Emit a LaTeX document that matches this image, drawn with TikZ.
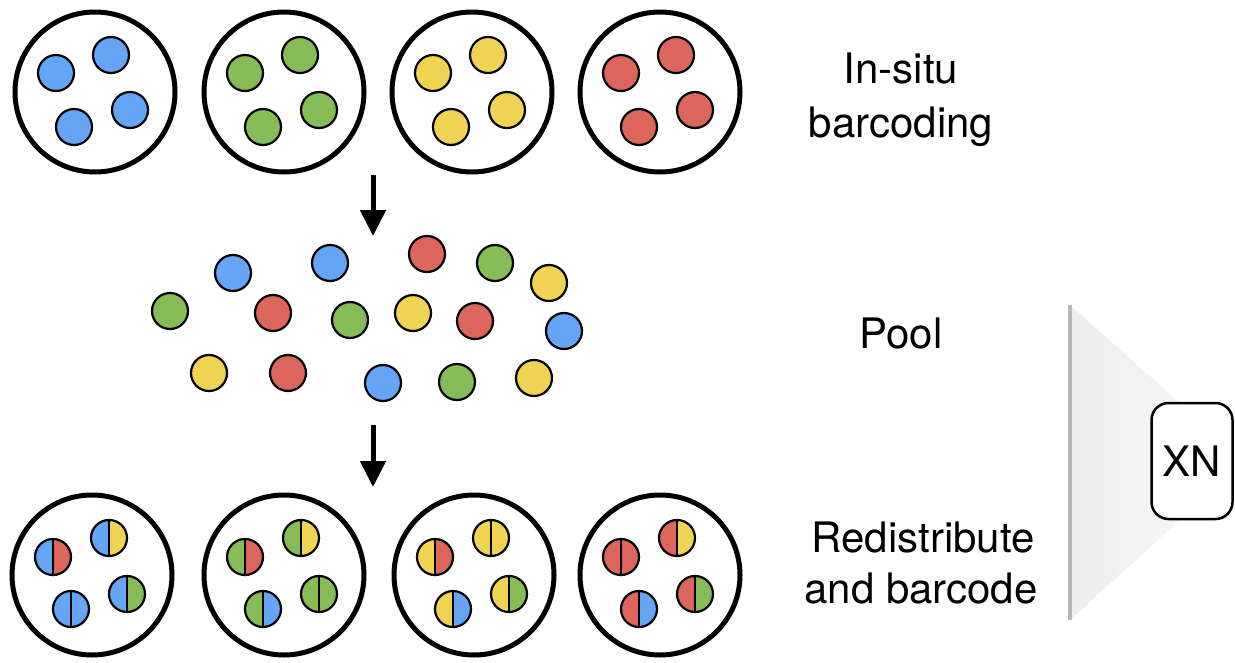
\documentclass[tikz,border=0pt]{standalone}
\usepackage{fontspec}
\setmainfont{TeX Gyre Heros}
\usetikzlibrary{calc,arrows.meta}
\definecolor{cb}{RGB}{100,165,245}
\definecolor{cg}{RGB}{133,188,85}
\definecolor{cy}{RGB}{240,211,82}
\definecolor{cr}{RGB}{221,102,92}
\begin{document}
\begin{tikzpicture}[x=1pt,y=-1pt,
  well/.style={circle, draw, line width=5pt, minimum size=160pt, inner sep=0pt},
  ball/.style={circle, draw, line width=2.2pt, minimum size=36pt, inner sep=0pt, fill=#1},
  half/.style 2 args={ball=#1, path picture={\fill[#2] (path picture bounding box.north) rectangle (path picture bounding box.south east); \draw[line width=2.2pt] (path picture bounding box.north) -- (path picture bounding box.south);}},
  lab/.style={anchor=base, font=\fontsize{42}{50}\selectfont},
  flow/.style={line width=5pt, -{Triangle[width=25pt,length=26pt]}}]
\useasboundingbox (0,0) rectangle (1235,662);

% top wells
\foreach \w/\c/\x in {1/cb/95, 2/cg/284, 3/cy/472, 4/cr/660}{
  \node[well] (t\w) at (\x,92) {};
  \node[ball=\c] (t\w a) at ($(t\w)+(-39,-19)$) {};
  \node[ball=\c] (t\w b) at ($(t\w)+(16,-37)$) {};
  \node[ball=\c] (t\w c) at ($(t\w)+(35,18)$) {};
  \node[ball=\c] (t\w d) at ($(t\w)+(-21,35)$) {};
}

% bottom wells
\foreach \w/\c/\x in {1/cb/92, 2/cg/284, 3/cy/474, 4/cr/660}{
  \node[well] (b\w) at (\x,575) {};
  \node[half={\c}{cr}] (b\w a) at ($(b\w)+(-39,-18)$) {};
  \node[half={\c}{cy}] (b\w b) at ($(b\w)+(17,-37)$) {};
  \node[half={\c}{cg}] (b\w c) at ($(b\w)+(35,19)$) {};
  \node[half={\c}{cb}] (b\w d) at ($(b\w)+(-21,34)$) {};
}

% pool
\node[ball=cb] (p1) at (233,273) {};
\node[ball=cb] (p2) at (330,263) {};
\node[ball=cr] (p3) at (427,254) {};
\node[ball=cg] (p4) at (495,263) {};
\node[ball=cy] (p5) at (549,283) {};
\node[ball=cg] (p6) at (170,311) {};
\node[ball=cr] (p7) at (273,313) {};
\node[ball=cg] (p8) at (350,320) {};
\node[ball=cy] (p9) at (413,313) {};
\node[ball=cr] (p10) at (475,321) {};
\node[ball=cb] (p11) at (564,331) {};
\node[ball=cy] (p12) at (209,373) {};
\node[ball=cr] (p13) at (288,373) {};
\node[ball=cb] (p14) at (383,383) {};
\node[ball=cg] (p15) at (457,382) {};
\node[ball=cy] (p16) at (534,378) {};

% arrows
\coordinate (a1s) at (373,175);
\coordinate (a1e) at (373,236);
\coordinate (a2s) at (373,425);
\coordinate (a2e) at (373,487);
\draw[flow] (a1s) -- (a1e);
\draw[flow] (a2s) -- (a2e);

% labels
\node[lab] (l1) at (901,83) {In-situ};
\node[lab] (l2) at (901,137) {barcoding};
\node[lab] (l3) at (901,348) {Pool};
\node[lab] (l4) at (923,552) {Redistribute};
\node[lab] (l5) at (921,603) {and barcode};

% XN funnel
\coordinate (ft) at (1070,305);
\coordinate (fb) at (1070,620);
\coordinate (fa) at (1245,461);
\shade[left color=black!7, right color=black!2] (ft) -- (fa) -- (fb) -- cycle;
\draw[line width=4pt, black!28] (ft) -- (fb);
\node[draw, line width=2.5pt, rounded corners=17pt, fill=white, minimum width=81pt, minimum height=116pt, inner sep=0pt, font=\fontsize{42}{50}\selectfont] (xn) at (1192,461) {XN};
\end{tikzpicture}
\end{document}
